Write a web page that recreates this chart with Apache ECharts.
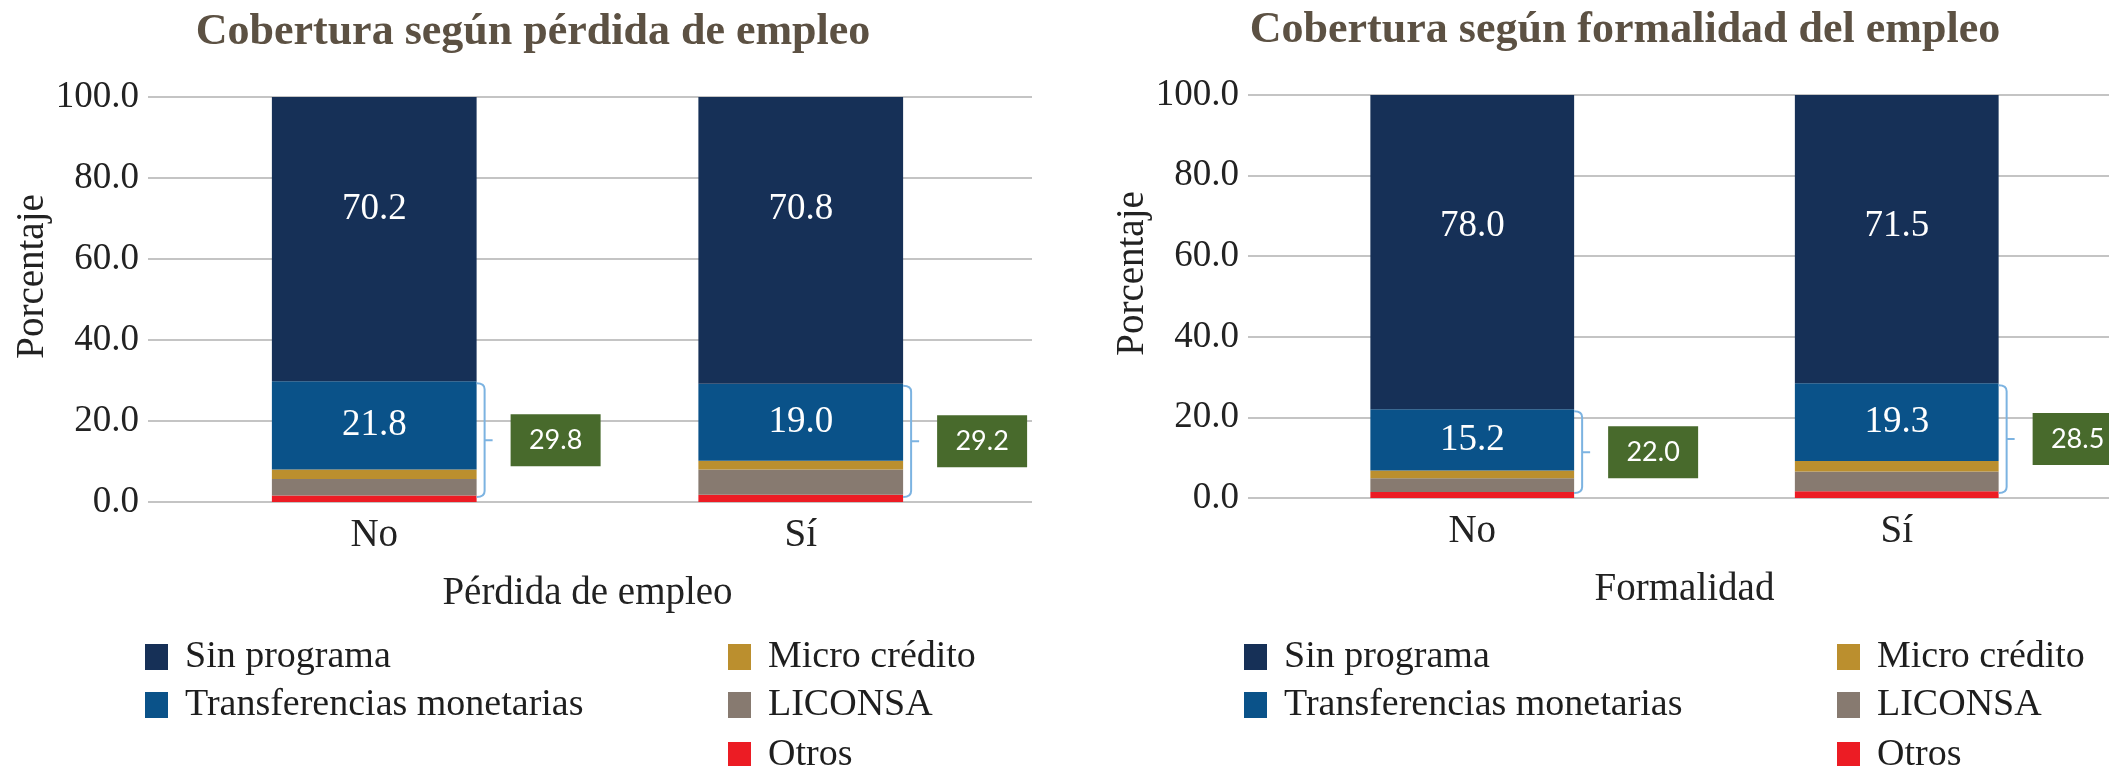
<!DOCTYPE html>
<html lang="es">
<head>
<meta charset="UTF-8">
<title>Cobertura de programas</title>
<style>
  html, body { margin: 0; padding: 0; background: #fff; }
  #main { width: 2109px; height: 766px; }
</style>
</head>
<body>
<div id="main"></div>
<script src="https://cdn.jsdelivr.net/npm/echarts@6/dist/echarts.min.js"></script>
<script type="text/javascript">
// datos
var categoriasPerdida = ['No', 'Sí'];
var categoriasFormalidad = ['No', 'Sí'];

var perdidaSinPrograma = [70.2, 70.8];
var perdidaTransferencias = [21.8, 19.0];
var perdidaMicro = [2.3, 2.2];
var perdidaLiconsa = [4.1, 6.2];
var perdidaOtros = [1.6, 1.8];
var perdidaCobertura = [29.8, 29.2];

var formalSinPrograma = [78.0, 71.5];
var formalTransferencias = [15.2, 19.3];
var formalMicro = [1.9, 2.6];
var formalLiconsa = [3.4, 4.9];
var formalOtros = [1.5, 1.7];
var formalCobertura = [22.0, 28.5];

var nombres = ['Sin programa', 'Transferencias monetarias', 'Micro crédito', 'LICONSA', 'Otros'];
var colores = {
    'Sin programa': '#163057',
    'Transferencias monetarias': '#0a5289',
    'Micro crédito': '#bb8f2e',
    'LICONSA': '#877a70',
    'Otros': '#ec1c24'
};

var SERIF = 'Liberation Serif';
var BAR_RATIO = 0.48;

var myChart = echarts.init(document.getElementById('main'));

// llave + caja verde con el total de cobertura
function renderLlave(params, api) {
    var idx = api.value(0);
    var total = api.value(1);
    var pTop = api.coord([idx, total]);
    var pBot = api.coord([idx, 0]);
    var band = api.size([1, 0])[0];
    var edge = pTop[0] + band * BAR_RATIO / 2;
    var x = edge + 8;
    var y0 = pTop[1] + 2, y1 = pBot[1] - 5, ym = (y0 + y1) / 2, r = 6;
    var d = 'M' + edge + ' ' + y0 + ' Q' + x + ' ' + y0 + ' ' + x + ' ' + (y0 + r) +
        ' L' + x + ' ' + (y1 - r) + ' Q' + x + ' ' + y1 + ' ' + edge + ' ' + y1 +
        ' M' + x + ' ' + ym + ' L' + (x + 8) + ' ' + ym;
    return {
        type: 'group',
        children: [
            { type: 'path', shape: { pathData: d }, style: { stroke: '#7cb3e1', lineWidth: 2, fill: 'none' } },
            { type: 'rect', shape: { x: edge + 34, y: ym - 26, width: 90, height: 52 }, style: { fill: '#486a2c' } },
            { type: 'text', style: { text: total.toFixed(1), x: edge + 79, y: ym, align: 'center', verticalAlign: 'middle',
                fill: '#fff', fontSize: 27, fontFamily: 'Lato' } }
        ]
    };
}

function pila(axis, valores, distTop) {
    var out = [];
    var orden = ['Otros', 'LICONSA', 'Micro crédito', 'Transferencias monetarias', 'Sin programa'];
    orden.forEach(function (n) {
        var s = {
            name: n,
            type: 'bar',
            stack: 'total' + axis,
            xAxisIndex: axis,
            yAxisIndex: axis,
            barWidth: (BAR_RATIO * 100) + '%',
            itemStyle: { color: colores[n] },
            data: valores[n],
            label: { show: false }
        };
        if (n === 'Sin programa') {
            s.label = { show: true, position: 'insideTop', distance: distTop, color: '#fff',
                fontFamily: SERIF, fontSize: 37, formatter: function (p) { return p.value.toFixed(1); } };
        } else if (n === 'Transferencias monetarias') {
            s.label = { show: true, position: 'inside', color: '#fff',
                fontFamily: SERIF, fontSize: 37, formatter: function (p) { return p.value.toFixed(1); } };
        }
        out.push(s);
    });
    return out;
}

function ejeBarras(grid, cats, nombre) {
    return {
        gridIndex: grid, type: 'category', data: cats,
        axisLine: { show: false }, axisTick: { show: false },
        axisLabel: { margin: 14, color: '#222', fontFamily: SERIF, fontSize: 39, lineHeight: 40 },
        name: nombre, nameLocation: 'middle', nameGap: 72,
        nameTextStyle: { color: '#222', fontFamily: SERIF, fontSize: 39 }
    };
}

function ejeLineas(grid) {
    return {
        gridIndex: grid, type: 'value', min: 0, max: 100, interval: 20,
        axisLine: { show: false }, axisTick: { show: false },
        splitLine: { lineStyle: { color: '#c4c4c4', width: 2 } },
        axisLabel: { margin: 9, color: '#222', fontFamily: SERIF, fontSize: 37,
            formatter: function (v) { return v.toFixed(1); } },
        name: 'Porcentaje', nameLocation: 'middle', nameGap: 92, nameRotate: 90,
        nameTextStyle: { color: '#222', fontFamily: SERIF, fontSize: 39, padding: [0, 0, 0, 46] }
    };
}

function ejeOculto(grid) {
    return { gridIndex: grid, type: 'value', min: 0, max: 100, interval: 20, show: false, splitLine: { show: false } };
}

// una leyenda por elemento para fijar su posicion
function leyenda(left, centroY, nombre) {
    return {
        left: left, top: centroY - 17, orient: 'vertical', padding: 0,
        itemWidth: 23, itemHeight: 26, icon: 'rect', selectedMode: false,
        data: [nombre],
        textStyle: { color: '#1e1e1e', fontFamily: SERIF, fontSize: 38, lineHeight: 40, padding: [0, 0, 0, 12] }
    };
}

function leyendasDe(col1, col2) {
    return [
        leyenda(col1, 654, nombres[0]),
        leyenda(col1, 702, nombres[1]),
        leyenda(col2, 654, nombres[2]),
        leyenda(col2, 702, nombres[3]),
        leyenda(col2, 752, nombres[4])
    ];
}

var series = [].concat(
    pila(0, {
        'Sin programa': perdidaSinPrograma, 'Transferencias monetarias': perdidaTransferencias,
        'Micro crédito': perdidaMicro, 'LICONSA': perdidaLiconsa, 'Otros': perdidaOtros
    }, 94),
    pila(2, {
        'Sin programa': formalSinPrograma, 'Transferencias monetarias': formalTransferencias,
        'Micro crédito': formalMicro, 'LICONSA': formalLiconsa, 'Otros': formalOtros
    }, 113),
    [{
        type: 'custom', xAxisIndex: 0, yAxisIndex: 0, clip: false, silent: true,
        renderItem: renderLlave, z: 5,
        data: perdidaCobertura.map(function (v, i) { return [i, v]; })
    }, {
        type: 'custom', xAxisIndex: 2, yAxisIndex: 2, clip: false, silent: true,
        renderItem: renderLlave, z: 5,
        data: formalCobertura.map(function (v, i) { return [i, v]; })
    }]
);

option = {
    animation: false,
    backgroundColor: '#fff',
    title: [{
        text: 'Cobertura según pérdida de empleo', left: 528, top: 6, textAlign: 'center',
        textStyle: { color: '#5c5143', fontFamily: SERIF, fontWeight: 'bold', fontSize: 44 }
    }, {
        text: 'Cobertura según formalidad del empleo', left: 1620, top: 4, textAlign: 'center',
        textStyle: { color: '#5c5143', fontFamily: SERIF, fontWeight: 'bold', fontSize: 44 }
    }],
    legend: leyendasDe(145, 728).concat(leyendasDe(1244, 1837)),
    grid: [
        { left: 161, width: 853, top: 97, height: 405 },   // barras izquierda
        { left: 148, width: 884, top: 97, height: 405 },   // lineas izquierda
        { left: 1260, width: 852, top: 95, height: 403 },  // barras derecha
        { left: 1248, width: 870, top: 95, height: 403 }   // lineas derecha
    ],
    xAxis: [
        ejeBarras(0, categoriasPerdida, 'Pérdida de empleo'),
        { gridIndex: 1, type: 'category', show: false },
        ejeBarras(2, categoriasFormalidad, 'Formalidad'),
        { gridIndex: 3, type: 'category', show: false }
    ],
    yAxis: [ejeOculto(0), ejeLineas(1), ejeOculto(2), ejeLineas(3)],
    series: series
};
myChart.setOption(option);
</script>
</body>
</html>
